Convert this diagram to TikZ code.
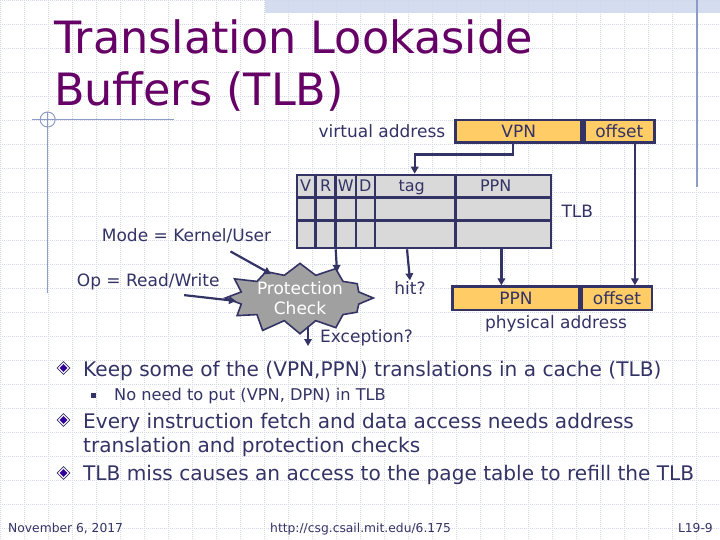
\documentclass[tikz,border=0pt]{standalone}
\usepackage{fontspec}
\setmainfont{DejaVu Sans}
\usepackage{tikz}
\usetikzlibrary{arrows.meta,positioning,shapes.geometric,shapes.symbols,calc}
\definecolor{navy}{RGB}{51,51,102}
\definecolor{titlepurple}{RGB}{102,0,102}
\definecolor{addrorange}{RGB}{255,204,102}
\definecolor{tlbgray}{RGB}{217,217,217}
\definecolor{starfill}{RGB}{160,160,160}
\definecolor{gridgray}{RGB}{212,216,228}
\definecolor{decoblue}{RGB}{140,155,200}
\definecolor{bandblue}{RGB}{212,220,240}
\definecolor{bulletblue}{RGB}{51,0,153}

\begin{document}
\begin{tikzpicture}[x=1pt, y=-1pt,
        lbl/.style={font=\fontsize{17}{20}\selectfont, text=navy, inner sep=1pt},
        hdr/.style={font=\fontsize{16}{19}\selectfont, text=navy, inner sep=0pt, anchor=base},
        field/.style={rectangle, draw=navy, line width=2.6pt, fill=addrorange, minimum height=22.7pt, inner sep=0pt, font=\fontsize{17}{20}\selectfont, text=navy},
        tlbbox/.style={rectangle, draw=navy, line width=2.6pt, fill=tlbgray, minimum width=254pt, minimum height=73pt, inner sep=0pt},
        protbox/.style={starburst, starburst points=12, starburst point height=17pt, random starburst=41, draw=navy, line width=1.6pt, fill=starfill, minimum width=145pt, minimum height=64pt, inner sep=0pt, align=center, text=white, font=\fontsize{17}{20}\selectfont},
        arrow/.style={-{Triangle[length=7pt,width=7.5pt]}, line width=2.2pt, navy},
        link/.style={line width=2.6pt, navy},
        gridline/.style={gridgray, line width=0.5pt, dash pattern=on 1pt off 1pt},
        deco/.style={decoblue, line width=1pt},
        titletext/.style={font=\fontsize{44.5}{52}\selectfont, text=titlepurple, inner sep=0pt, anchor=base west},
        bullettext/.style={font=\fontsize{20.1}{24}\selectfont, text=navy, inner sep=0pt, anchor=base west},
        subtext/.style={font=\fontsize{16.2}{18}\selectfont, text=navy, inner sep=0pt, anchor=base west},
        foot/.style={font=\fontsize{12.3}{14}\selectfont, text=navy, inner sep=0pt},
        bulletouter/.style={diamond, draw=navy, line width=0.6pt, fill=white, minimum size=13pt, inner sep=0pt},
        bulletinner/.style={diamond, fill=bulletblue, minimum size=8pt, inner sep=0pt}
    ]
    \useasboundingbox (0,0) rectangle (720,540);
    \fill[white] (0,0) rectangle (720,540);
    % slide background
    \fill[bandblue] (265,0) rectangle (720,13);
    \foreach \gx in {0,...,29} \draw[gridline] (\gx*24+0.7,0) -- (\gx*24+0.7,540);
    \foreach \gy in {0,...,22} \draw[gridline] (0,\gy*24+0.7) -- (720,\gy*24+0.7);
    \draw[decoblue, line width=1.5pt] (697,0) -- (697,187);
    \draw[deco] (32,119.5) -- (174,119.5);
    \draw[deco] (47.7,112) -- (47.7,293);
    \draw[deco] (47.7,119.5) circle (7.5);

    % title
    \node[titletext] (title1) at (54,54) {Translation Lookaside};
    \node[titletext] (title2) at (54,106) {Buffers (TLB)};

    % virtual address
    \node[field, minimum width=126pt] (vpn) at (518.7,131.3) {VPN};
    \node[field, minimum width=70pt, right=0pt of vpn] (voff) {offset};
    \node[lbl, left=8pt of vpn] (vaddr) {virtual address};

    % TLB
    \node[tlbbox] (tlb) at (424,211.5) {};
    \foreach \dx in {20,40,60.3,79.3,160}
        \draw[link] ([xshift=\dx]tlb.north west) -- ([xshift=\dx]tlb.south west);
    \foreach \dy in {24,47}
        \draw[link] ([yshift=-\dy]tlb.north west) -- ([yshift=-\dy]tlb.north east);
    \foreach \lab/\cx in {V/10,R/30,W/50,D/69.5,tag/116,PPN/200}
        \node[hdr] (h-\lab) at ([xshift=\cx, yshift=-18]tlb.north west) {\lab};
    \node[lbl, right=8pt of tlb] (tlblabel) {TLB};
    \draw[arrow] ([xshift=-5.7]vpn.south) -- ++(0,10.5) -| ([xshift=119]tlb.north west);

    % physical address
    \node[field, minimum width=126.6pt, minimum height=23.3pt] (pppn) at (516,298.3) {PPN};
    \node[field, minimum width=70pt, minimum height=23.3pt, right=0pt of pppn] (poff) {offset};
    \node[lbl] (paddr) at (556,324) {physical address};
    \draw[arrow] ([xshift=15.6]voff.south) -- ([xshift=15.6]voff.south |- poff.north);
    \draw[arrow] ([xshift=205.7]tlb.south west) -- ([xshift=205.7]tlb.south west |- pppn.north);

    % protection check
    \node[protbox] (prot) at (300,298) {Protection\\Check};
    \node[lbl, anchor=west] (mode) at (100.7,236) {Mode = Kernel/User};
    \node[lbl, anchor=west] (op) at (75.7,281.7) {Op = Read/Write};
    \node[lbl] (hit) at (410,288) {hit?};
    \node[lbl, anchor=west] (exc) at (319,338) {Exception?};
    \draw[arrow] ([xshift=40]tlb.south west) -- ($(prot.center)+(37,-26)$);
    \draw[arrow] ([xshift=111.3]tlb.south west) -- (hit.north);
    \draw[arrow] ($(mode.south)+(44,7)$) -- ($(prot.center)+(-29,-24)$);
    \draw[arrow] ($(op.south)+(36,4)$) -- ($(prot.center)+(-64,3)$);
    \draw[arrow] ($(prot.center)+(8,28)$) -- ($(prot.center)+(8,48)$);

    % bullets
    \foreach \i/\by in {1/368,2/420,3/473} {
        \node[bulletouter] (bo\i) at (63.5,\by) {};
        \node[bulletinner] (bi\i) at (bo\i) {};
    }
    \node[bullettext] (txt1) at (83,376) {Keep some of the (VPN,PPN) translations in a cache (TLB)};
    \node[fill=navy, minimum size=5pt, inner sep=0pt] (sq1) at (93,395) {};
    \node[subtext] (txt1a) at (114,400) {No need to put (VPN, DPN) in TLB};
    \node[bullettext] (txt2) at (83,428) {Every instruction fetch and data access needs address};
    \node[bullettext] (txt2b) at (83,452) {translation and protection checks};
    \node[bullettext] (txt3) at (83,480) {TLB miss causes an access to the page table to refill the TLB};

    % footer
    \node[foot, anchor=base west] (date) at (8,532) {November 6, 2017};
    \node[foot, anchor=base west] (url) at (270,532) {http://csg.csail.mit.edu/6.175};
    \node[foot, anchor=base east] (pagenum) at (713,532) {L19-9};
\end{tikzpicture}
\end{document}
